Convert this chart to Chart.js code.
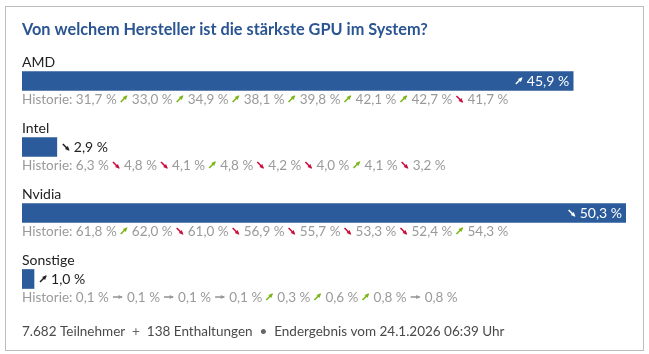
<!DOCTYPE html>
<html>
<head>
<meta charset="utf-8">
<script src="https://cdn.jsdelivr.net/npm/chart.js@4.4.1/dist/chart.umd.min.js"></script>
<style>
  html, body { margin: 0; padding: 0; background: #fff; }
  canvas { display: block; }
</style>
</head>
<body>
<canvas id="pollChart" width="649" height="354"></canvas>
<script>
// Poll data
const pollTitle = 'Von welchem Hersteller ist die stärkste GPU im System?';
const categories = ['AMD', 'Intel', 'Nvidia', 'Sonstige'];
const shares = [45.9, 2.9, 50.3, 1.0];
const historyAmd = [31.7, 33.0, 34.9, 38.1, 39.8, 42.1, 42.7, 41.7];
const historyIntel = [6.3, 4.8, 4.1, 4.8, 4.2, 4.0, 4.1, 3.2];
const historyNvidia = [61.8, 62.0, 61.0, 56.9, 55.7, 53.3, 52.4, 54.3];
const historySonstige = [0.1, 0.1, 0.1, 0.1, 0.3, 0.6, 0.8, 0.8];
const histories = [historyAmd, historyIntel, historyNvidia, historySonstige];
const participants = '7.682';
const abstentions = '138';
const resultDate = '24.1.2026 06:39';

const FONT = 'Lato, "Liberation Sans Narrow", sans-serif';
const BLUE = '#2b5b9b';

// German number format, e.g. 45,9 %
const fmt = v => v.toFixed(1).replace('.', ',') + ' %';
const trend = (prev, next) => (next > prev ? 1 : next < prev ? -1 : 0);

// small trend arrow, x = left edge, y = vertical middle; returns its width
function drawArrow(ctx, x, y, dir, color) {
  ctx.save();
  ctx.strokeStyle = color;
  ctx.fillStyle = color;
  ctx.lineWidth = 1.6;
  let x1, y1, x2, y2;
  if (dir > 0) { x1 = x; y1 = y + 3; x2 = x + 6; y2 = y - 3; }
  else if (dir < 0) { x1 = x; y1 = y - 3; x2 = x + 6; y2 = y + 3; }
  else { x1 = x; y1 = y; x2 = x + 9; y2 = y; }
  ctx.beginPath();
  ctx.moveTo(x1, y1);
  ctx.lineTo(x2, y2);
  ctx.stroke();
  const ang = Math.atan2(y2 - y1, x2 - x1);
  const h = 4;
  ctx.beginPath();
  ctx.moveTo(x2 + Math.cos(ang), y2 + Math.sin(ang));
  ctx.lineTo(x2 - h * Math.cos(ang - 0.55), y2 - h * Math.sin(ang - 0.55));
  ctx.lineTo(x2 - h * Math.cos(ang + 0.55), y2 - h * Math.sin(ang + 0.55));
  ctx.closePath();
  ctx.fill();
  ctx.restore();
  return x2 - x1 + 1;
}

const arrowColor = dir => (dir > 0 ? '#7cb518' : dir < 0 ? '#c8103e' : '#999');

// frame, title, labels, history lines and footer
const pollLabels = {
  id: 'pollLabels',
  beforeDraw(chart) {
    const ctx = chart.ctx;
    ctx.save();
    ctx.fillStyle = '#fff';
    ctx.fillRect(0, 0, chart.width, chart.height);
    ctx.strokeStyle = '#bdbdbd';
    ctx.lineWidth = 1;
    ctx.strokeRect(5.5, 6.5, 638, 344);
    ctx.fillStyle = '#2a5592';
    ctx.font = 'bold 16.3px ' + FONT;
    ctx.textBaseline = 'alphabetic';
    ctx.fillText(pollTitle, chart.chartArea.left, 35);
    ctx.restore();
  },
  afterDatasetsDraw(chart) {
    const ctx = chart.ctx;
    const left = chart.chartArea.left;
    const meta = chart.getDatasetMeta(0);
    ctx.save();
    ctx.textBaseline = 'alphabetic';
    meta.data.forEach((bar, i) => {
      const hist = histories[i];

      // category name above the bar
      ctx.font = '14px ' + FONT;
      ctx.fillStyle = '#222';
      ctx.fillText(categories[i], left, bar.y - 14.5);

      // value with trend arrow
      const dir = trend(hist[hist.length - 1], shares[i]);
      const label = fmt(shares[i]);
      ctx.font = '14px ' + FONT;
      const tw = ctx.measureText(label).width;
      const need = 7 + 4 + tw;
      if (bar.x - bar.base > need + 12) {
        const x0 = bar.x - 4 - need;
        drawArrow(ctx, x0, bar.y, dir, '#fff');
        ctx.fillStyle = '#fff';
        ctx.fillText(label, x0 + 11, bar.y + 5);
      } else {
        const x0 = bar.x + 6;
        drawArrow(ctx, x0, bar.y, dir, '#222');
        ctx.fillStyle = '#222';
        ctx.fillText(label, x0 + 11, bar.y + 5);
      }

      // history line below the bar
      const hy = bar.y + 22.5;
      ctx.font = '13.5px ' + FONT;
      ctx.fillStyle = '#9a9a9a';
      let x = left;
      const head = 'Historie: ';
      ctx.fillText(head, x, hy);
      x += ctx.measureText(head).width;
      hist.forEach((v, k) => {
        if (k > 0) {
          const d = trend(hist[k - 1], v);
          x += 0.6;
          x += drawArrow(ctx, x, hy - 4.5, d, arrowColor(d));
          x += ctx.measureText(' ').width + 0.6;
        }
        const t = fmt(v) + ' ';
        ctx.fillStyle = '#9a9a9a';
        ctx.fillText(t, x, hy);
        x += ctx.measureText(t).width;
      });
    });

    // footer
    const fy = 336;
    ctx.font = '13.5px ' + FONT;
    let x = left;
    const parts = [
      [participants + ' Teilnehmer', '#4a4a4a'],
      ['  +  ', '#666'],
      [abstentions + ' Enthaltungen', '#4a4a4a'],
      ['  •  ', '#666'],
      ['Endergebnis vom ' + resultDate + ' Uhr', '#4a4a4a']
    ];
    parts.forEach(([t, c]) => {
      ctx.fillStyle = c;
      ctx.fillText(t, x, fy);
      x += ctx.measureText(t).width;
    });
    ctx.restore();
  }
};

const ctx = document.getElementById('pollChart').getContext('2d');
new Chart(ctx, {
  type: 'bar',
  data: {
    labels: categories,
    datasets: [{
      data: shares,
      backgroundColor: BLUE,
      borderWidth: 0,
      barThickness: 19
    }]
  },
  options: {
    indexAxis: 'y',
    responsive: false,
    animation: false,
    layout: { padding: { left: 22, right: 23, top: 48, bottom: 42 } },
    scales: {
      x: { display: false, min: 0, max: Math.max(...shares) },
      y: { display: false }
    },
    plugins: {
      legend: { display: false },
      tooltip: { enabled: false }
    }
  },
  plugins: [pollLabels]
});
</script>
</body>
</html>
